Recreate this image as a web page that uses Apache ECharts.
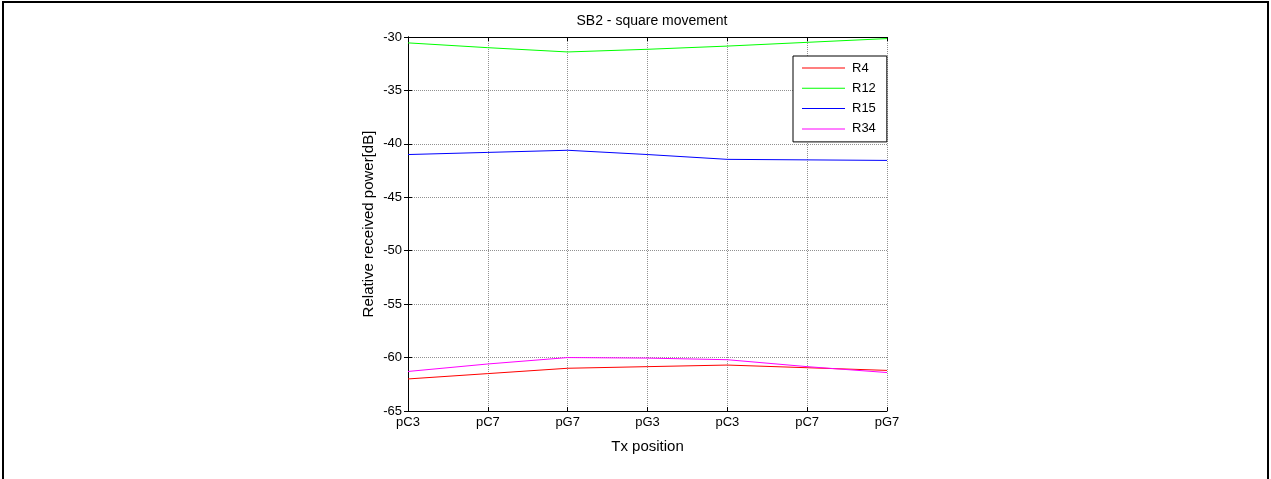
<!DOCTYPE html>
<html>
<head>
<meta charset="utf-8">
<script src="https://cdn.jsdelivr.net/npm/echarts@6/dist/echarts.min.js"></script>
<style>
  html, body { margin: 0; padding: 0; background: #fff; }
  #chart { width: 1271px; height: 479px; }
</style>
</head>
<body>
<div id="chart"></div>
<script>
var myChart = echarts.init(document.getElementById('chart'));

// Tx positions along the x axis (repeated names, so index based)
var positions = ['pC3', 'pC7', 'pG7', 'pG3', 'pC3', 'pC7', 'pG7'];
var yTicks = [-65, -60, -55, -50, -45, -40, -35, -30];

var r4  = [-62.0, -61.5, -61.0, -60.85, -60.7, -60.95, -61.2];
var r12 = [-30.55, -31.0, -31.4, -31.15, -30.85, -30.5, -30.15];
var r15 = [-41.0, -40.8, -40.6, -41.0, -41.45, -41.5, -41.55];
var r34 = [-61.3, -60.6, -60.0, -60.05, -60.2, -60.85, -61.4];

function pairs(vals) {
    var res = [];
    for (var i = 0; i < vals.length; i++) {
        res.push([i, vals[i]]);
    }
    return res;
}

var font = 'Liberation Sans';

function lineSeries(name, vals, color) {
    return {
        name: name,
        type: 'line',
        data: pairs(vals),
        showSymbol: false,
        symbol: 'none',
        animation: false,
        lineStyle: { color: color, width: 1 },
        itemStyle: { color: color }
    };
}

var gridLine = { show: true, lineStyle: { color: '#909090', type: [1, 1], width: 1 } };

option = {
    backgroundColor: '#fff',
    textStyle: { fontFamily: font },
    title: {
        text: 'SB2 - square movement',
        left: 647,
        textAlign: 'center',
        top: 9,
        textStyle: { fontFamily: font, fontSize: 14, fontWeight: 'normal', color: '#000' }
    },
    legend: {
        orient: 'vertical',
        left: 793,
        top: 56,
        padding: [5, 11, 6, 9],
        backgroundColor: '#fff',
        borderColor: '#000',
        borderWidth: 1,
        icon: 'rect',
        itemWidth: 43,
        itemHeight: 1,
        itemGap: 6.3,
        textStyle: { fontFamily: font, fontSize: 13, lineHeight: 14, color: '#000', padding: [0, 0, 0, 2] },
        data: ['R4', 'R12', 'R15', 'R34']
    },
    grid: { left: 408, right: 384, top: 37, bottom: 68, containLabel: false },
    xAxis: [{
        type: 'value',
        min: 0,
        max: positions.length - 1,
        interval: 1,
        position: 'bottom',
        name: 'Tx position',
        nameLocation: 'middle',
        nameGap: 28,
        nameTextStyle: { fontFamily: font, fontSize: 15, color: '#000' },
        axisLine: { lineStyle: { color: '#000', width: 1 } },
        axisTick: { inside: true, length: 4, lineStyle: { color: '#000' } },
        axisLabel: {
            color: '#000', fontSize: 13, fontFamily: font, margin: 5,
            formatter: function (v) { return positions[v] || ''; }
        },
        splitLine: gridLine
    }, {
        type: 'value',
        min: 0,
        max: positions.length - 1,
        interval: 1,
        position: 'top',
        axisLine: { lineStyle: { color: '#000', width: 1 } },
        axisTick: { inside: true, length: 4, lineStyle: { color: '#000' } },
        axisLabel: { show: false },
        splitLine: { show: false }
    }],
    yAxis: [{
        type: 'value',
        min: yTicks[0],
        max: yTicks[yTicks.length - 1],
        interval: 5,
        position: 'left',
        name: 'Relative received power[dB]',
        nameLocation: 'middle',
        nameGap: 32,
        nameTextStyle: { fontFamily: font, fontSize: 15, color: '#000' },
        axisLine: { show: true, lineStyle: { color: '#000', width: 1 } },
        axisTick: { show: true, inside: true, length: 4, lineStyle: { color: '#000' } },
        axisLabel: { color: '#000', fontSize: 13, fontFamily: font, margin: 6 },
        splitLine: gridLine
    }, {
        type: 'value',
        min: yTicks[0],
        max: yTicks[yTicks.length - 1],
        interval: 5,
        position: 'right',
        axisLine: { show: true, lineStyle: { color: '#000', width: 1 } },
        axisTick: { show: true, inside: true, length: 4, lineStyle: { color: '#000' } },
        axisLabel: { show: false },
        splitLine: { show: false }
    }],
    graphic: [{
        type: 'rect',
        shape: { x: 3, y: 2, width: 1265, height: 520 },
        style: { fill: 'none', stroke: '#000', lineWidth: 2 },
        silent: true
    }],
    series: [
        lineSeries('R4', r4, '#ff0000'),
        lineSeries('R12', r12, '#00ff00'),
        lineSeries('R15', r15, '#0000ff'),
        lineSeries('R34', r34, '#ff00ff')
    ]
};

myChart.setOption(option);
</script>
</body>
</html>
